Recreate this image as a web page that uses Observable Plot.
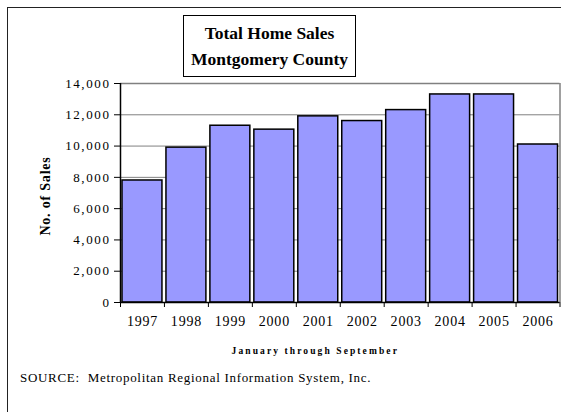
<!DOCTYPE html>
<html>
<head>
<meta charset="utf-8">
<script src="https://cdn.jsdelivr.net/npm/d3@7"></script>
<script src="https://cdn.jsdelivr.net/npm/@observablehq/plot@0.6"></script>
<style>
  html, body { margin: 0; padding: 0; background: #fff; }
  #wrap { position: relative; width: 561px; height: 412px; overflow: hidden; font-family: "Times New Roman", "Liberation Serif", Times, serif; }
  #frame { position: absolute; left: 7px; top: 7px; width: 600px; height: 500px; border: 1.5px solid #222; box-sizing: border-box; }
  #chart { position: absolute; left: 0; top: 0; }
  #title { position: absolute; left: 183px; top: 15px; width: 173px; height: 62px; box-sizing: border-box; border: 1.5px solid #000; background: #fff; text-align: center; font-weight: bold; font-size: 17.5px; line-height: 26px; padding-top: 4px; color: #000; }
  #source { position: absolute; left: 20px; top: 370px; font-size: 13px; color: #000; letter-spacing: 0.7px; font-family: "Times New Roman", "Liberation Serif", Times, serif; }
  #chart svg, #chart svg g, #chart svg text { font-family: "Times New Roman", "Liberation Serif", Times, serif !important; }
  #chart svg text { letter-spacing: 0.8px; }
  #chart svg .yaxis text { letter-spacing: 1.6px; }
  #chart svg .xtitle text { letter-spacing: 2.1px; }
</style>
</head>
<body>
<div id="wrap">
  <div id="frame"></div>
  <div id="chart"></div>
  <div id="title">Total Home Sales<br>Montgomery County</div>
  <div id="source">SOURCE:&nbsp; Metropolitan Regional Information System, Inc.</div>
</div>
<script>
const years = [1997, 1998, 1999, 2000, 2001, 2002, 2003, 2004, 2005, 2006];
const sales = [7800, 9900, 11300, 11050, 11900, 11600, 12300, 13300, 13300, 10100];
const yTicks = [0, 2000, 4000, 6000, 8000, 10000, 12000, 14000];
const yAxisTitle = "No. of Sales";
const xAxisTitle = "January through September";

const rows = years.map((y, i) => ({year: y, sales: sales[i]}));
const boundaries = [...years.map(y => y - 0.5), years[years.length - 1] + 0.5];
const serif = "Times New Roman, Liberation Serif, serif";

const chart = Plot.plot({
  width: 561,
  height: 412,
  marginLeft: 120,
  marginRight: 1.5,
  marginTop: 83,
  marginBottom: 110,
  style: { fontFamily: serif, fontSize: "13px", background: "transparent", color: "#000" },
  x: { domain: [years[0] - 0.5, years[years.length - 1] + 0.5] },
  y: { domain: [0, 14000] },
  marks: [
    Plot.ruleY(yTicks, { stroke: "#808080", strokeWidth: 1 }),
    Plot.ruleX([years[years.length - 1] + 0.5], { stroke: "#808080", strokeWidth: 1.5 }),
    Plot.ruleY([14000], { stroke: "#808080", strokeWidth: 1.5 }),
    Plot.rectY(rows, { x1: d => d.year - 0.5, x2: d => d.year + 0.5, y: "sales", fill: "#9999FF", stroke: "#000", strokeWidth: 1.5, insetLeft: 2, insetRight: 2 }),
    Plot.ruleX([years[0] - 0.5], { stroke: "#000", strokeWidth: 1.5 }),
    Plot.ruleY([0], { stroke: "#000", strokeWidth: 1.5 }),
    Plot.axisY({ ticks: yTicks, tickFormat: d3.format(","), tickSize: 6, tickPadding: 4, label: null, stroke: "#000", fill: "#000", fontSize: 13, fontFamily: serif, className: "yaxis" }),
    Plot.axisX({ ticks: boundaries, tickFormat: () => "", tickSize: 5, label: null, stroke: "#000" }),
    Plot.axisX({ ticks: years, tickFormat: d => String(d), tickSize: 0, tickPadding: 14, label: null, fontSize: 14, fill: "#000", fontFamily: serif }),
    Plot.text([yAxisTitle], { frameAnchor: "left", textAnchor: "middle", dx: -75, dy: 3, rotate: -90, fontWeight: "bold", fontSize: 14, fill: "#000", fontFamily: serif }),
    Plot.text([xAxisTitle], { frameAnchor: "bottom", lineAnchor: "middle", dy: 48, dx: -25, fontWeight: "bold", fontSize: 9.5, fill: "#000", fontFamily: serif, className: "xtitle" })
  ]
});
document.getElementById("chart").appendChild(chart);
</script>
</body>
</html>
